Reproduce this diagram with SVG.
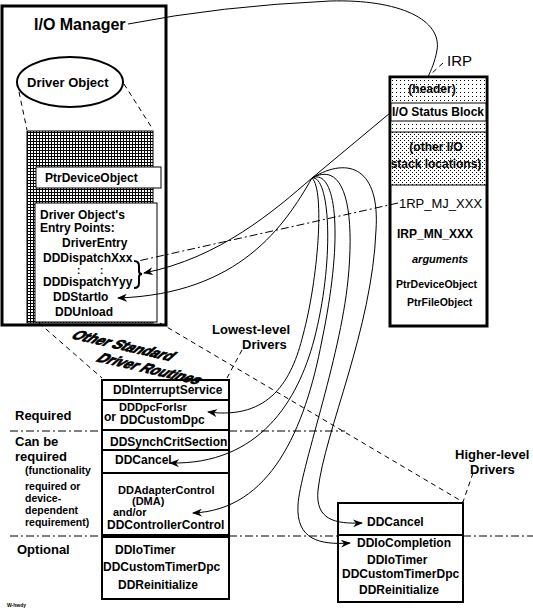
<svg xmlns="http://www.w3.org/2000/svg" width="533" height="612" viewBox="0 0 533 612">
<style>
text{font-family:"Liberation Sans",Arial,sans-serif;fill:#000}
.b{font-weight:bold}
.t12{font-size:12px;font-weight:bold}
.t11{font-size:11px;font-weight:bold}
.t13{font-size:13px;font-weight:bold}
.ln{fill:none;stroke:#000;stroke-width:1}
.dash{fill:none;stroke:#000;stroke-width:1;stroke-dasharray:5,4}
.dd{fill:none;stroke:#000;stroke-width:1;stroke-dasharray:8,3,2,3}
</style>
<defs>
<pattern id="grid" width="3" height="3" patternUnits="userSpaceOnUse">
<rect width="3" height="3" fill="#fff"/>
<path d="M0,0.5H3M0.5,0V3" stroke="#000" stroke-width="1"/>
</pattern>
<pattern id="dots1" width="4" height="4" patternUnits="userSpaceOnUse">
<rect width="4" height="4" fill="#fff"/>
<rect x="0" y="0" width="1" height="1" fill="#000"/>
</pattern>
<pattern id="dots2" width="4" height="4" patternUnits="userSpaceOnUse">
<rect width="4" height="4" fill="#fff"/>
<rect x="0" y="0" width="1" height="1" fill="#000"/>
<rect x="2" y="2" width="1" height="1" fill="#000"/>
</pattern>
<marker id="ah" viewBox="0 0 10 8" refX="9" refY="4" markerWidth="10" markerHeight="8" markerUnits="userSpaceOnUse" orient="auto">
<path d="M0,0 L10,4 L0,8 L3,4 Z" fill="#000"/>
</marker>
</defs>

<g id="io-manager">
<rect x="2" y="6" width="164" height="319" fill="#fff" stroke="#000" stroke-width="3"/>
<text x="34" y="30" style="font-size:16px" class="b">I/O Manager</text>
</g>

<g id="driver-object">
<ellipse cx="70" cy="82" rx="53" ry="25" fill="#fff" stroke="#000" stroke-width="2"/>
<text x="27" y="87" style="font-size:13px" class="b">Driver Object</text>
</g>

<g id="driver-object-detail">
<rect x="27" y="131" width="126" height="192" fill="url(#grid)" stroke="#000" stroke-width="1"/>
<rect x="36" y="167" width="125" height="21" fill="#fff" stroke="#000" stroke-width="1"/>
<text x="45" y="182" class="t12">PtrDeviceObject</text>
<rect x="35" y="203" width="122" height="119" fill="#fff" stroke="#000" stroke-width="1"/>
<text x="40" y="219" class="t12">Driver Object's</text>
<text x="40" y="232" class="t12">Entry Points:</text>
<text x="62" y="247" class="t12">DriverEntry</text>
<text x="43" y="262" class="t12">DDDispatchXxx</text>
<text x="77" y="274" style="font-size:10px;font-weight:bold">:</text>
<text x="100" y="274" style="font-size:10px;font-weight:bold">:</text>
<text x="43" y="286" class="t12">DDDispatchYyy</text>
<text x="53" y="301" class="t12">DDStartIo</text>
<text x="55" y="316" class="t12">DDUnload</text>
<path d="M134,261 Q139,261 139,266 L139,271 Q139,274 142,274 Q139,274 139,277 L139,283 Q139,288 134,288" fill="none" stroke="#000" stroke-width="2"/>
</g>

<g id="irp">
<rect x="390" y="77" width="97" height="249" fill="#fff" stroke="#000" stroke-width="3"/>
<rect x="391.5" y="78.5" width="94" height="24.5" fill="url(#dots1)"/>
<rect x="391.5" y="121" width="94" height="11" fill="url(#dots1)"/>
<rect x="391.5" y="132" width="94" height="53" fill="url(#dots2)"/>
<path d="M390,103H487M390,121H487M390,132H487M390,185H487" stroke="#000" stroke-width="1"/>
<text x="432" y="93" class="t12" text-anchor="middle">(header)</text>
<text x="438" y="116" class="t12" text-anchor="middle">I/O Status Block</text>
<text x="436" y="151" class="t12" text-anchor="middle">(other I/O</text>
<text x="436" y="168" class="t12" text-anchor="middle">stack locations)</text>
<text x="399" y="208" style="font-size:13px">1RP_MJ_XXX</text>
<text x="397" y="238" class="t12">IRP_MN_XXX</text>
<text x="412" y="263" style="font-size:11px;font-weight:bold;font-style:italic">arguments</text>
<text x="396" y="288" style="font-size:10.5px" class="b">PtrDeviceObject</text>
<text x="407" y="306" style="font-size:10.5px" class="b">PtrFileObject</text>
<text x="447" y="66" style="font-size:15px">IRP</text>
</g>

<g id="lowest-level-drivers">
<rect x="102" y="380" width="127" height="219" fill="#fff" stroke="#000" stroke-width="2"/>
<path d="M102,400H229M102,430H229M102,450H229M102,473H229M102,535H229M102,537H229" stroke="#000" stroke-width="2"/>
<text x="113" y="394" class="t12">DDInterruptService</text>
<text x="104" y="421" class="t12">or</text>
<text x="119" y="411" class="t11">DDDpcForIsr</text>
<text x="120" y="424" class="t12">DDCustomDpc</text>
<text x="110" y="446" class="t12">DDSynchCritSection</text>
<text x="115" y="464" class="t12">DDCancel</text>
<text x="118" y="494" class="t11">DDAdapterControl</text>
<text x="132" y="505" class="t11">(DMA)</text>
<text x="113" y="516" class="t11">and/or</text>
<text x="107" y="529" class="t12">DDControllerControl</text>
<text x="115" y="554" class="t12">DDIoTimer</text>
<text x="103" y="571" class="t12">DDCustomTimerDpc</text>
<text x="118" y="589" class="t12">DDReinitialize</text>
<text x="212" y="334" class="t13">Lowest-level</text>
<text x="242" y="349" class="t13">Drivers</text>
</g>

<g id="higher-level-drivers">
<rect x="338" y="503" width="125" height="99" fill="#fff" stroke="#000" stroke-width="2"/>
<path d="M338,535H463" stroke="#000" stroke-width="2"/>
<text x="367" y="526" class="t12">DDCancel</text>
<text x="357" y="547" class="t12">DDIoCompletion</text>
<text x="367" y="564" class="t12">DDIoTimer</text>
<text x="342" y="578" class="t12">DDCustomTimerDpc</text>
<text x="359" y="594" class="t12">DDReinitialize</text>
<text x="455" y="459" class="t13">Higher-level</text>
<text x="470" y="474" class="t13">Drivers</text>
</g>

<g id="labels">
<text x="15" y="420" class="t13">Required</text>
<text x="15" y="446" class="t13">Can be</text>
<text x="15" y="461" class="t13">required</text>
<text x="25" y="474" style="font-size:10.5px" class="b">(functionality</text>
<text x="25" y="490" style="font-size:10.5px" class="b">required or</text>
<text x="25" y="502" style="font-size:10.5px" class="b">device-</text>
<text x="25" y="514" style="font-size:10.5px" class="b">dependent</text>
<text x="25" y="526" style="font-size:10.5px" class="b">requirement)</text>
<text x="17" y="554" class="t13">Optional</text>
<text transform="translate(70,338) rotate(13) skewX(-35)" style="font-size:14px;font-weight:bold;stroke:#000;stroke-width:0.8">Other Standard</text>
<text transform="translate(95,361) rotate(13) skewX(-35)" style="font-size:14px;font-weight:bold;stroke:#000;stroke-width:0.8">Driver Routines</text>
<text x="7" y="607" style="font-size:5px" class="b">W-hwdy</text>
</g>

<g id="connectors">
<path class="ln" d="M128,24 Q220,6 330,1 C400,-1 442,20 437,50 C435,62 431,70 428,77"/>
<path class="dash" d="M443,63 L431,74" stroke-dasharray="3,2"/>
<path class="dash" d="M19,92 L27,130"/>
<path class="dash" d="M124,84 L152,128"/>
<path class="dash" d="M39,323 L102,378"/>
<path class="dash" d="M160,323 L463,502"/>
<path class="dash" d="M242,350 L227,378" stroke-dasharray="3,2"/>
<path class="dash" d="M473,473 L463,502" stroke-dasharray="3,2"/>
<path class="dd" d="M10,431 H102 M229,431 H345"/>
<path class="dd" d="M10,536 H102 M229,536 H338 M463,536 H533"/>
<path class="dd" d="M398,203 L138,261"/>
<path class="ln" d="M390,113 L312,178"/>
<path class="ln" marker-end="url(#ah)" d="M312,178 C275,210 220,258 144,273"/>
<path class="ln" marker-end="url(#ah)" d="M312,178 C285,225 240,294 118,298"/>
<path class="ln" marker-end="url(#ah)" d="M312,178 C325,190 318,280 303,335 C292,380 270,420 208,412"/>
<path class="ln" marker-end="url(#ah)" d="M312,178 C330,175 335,260 314,340 C298,400 260,465 170,463"/>
<path class="ln" marker-end="url(#ah)" d="M312,178 C335,168 345,230 322,340 C305,430 270,510 193,513"/>
<path class="ln" marker-end="url(#ah)" d="M312,178 C345,160 355,210 348,280 C340,360 300,470 298,505 C296,540 320,545 350,543"/>
<path class="ln" marker-end="url(#ah)" d="M312,178 C350,155 380,170 376,230 C372,330 325,430 318,490 C315,520 335,524 362,523"/>
</g>
</svg>
